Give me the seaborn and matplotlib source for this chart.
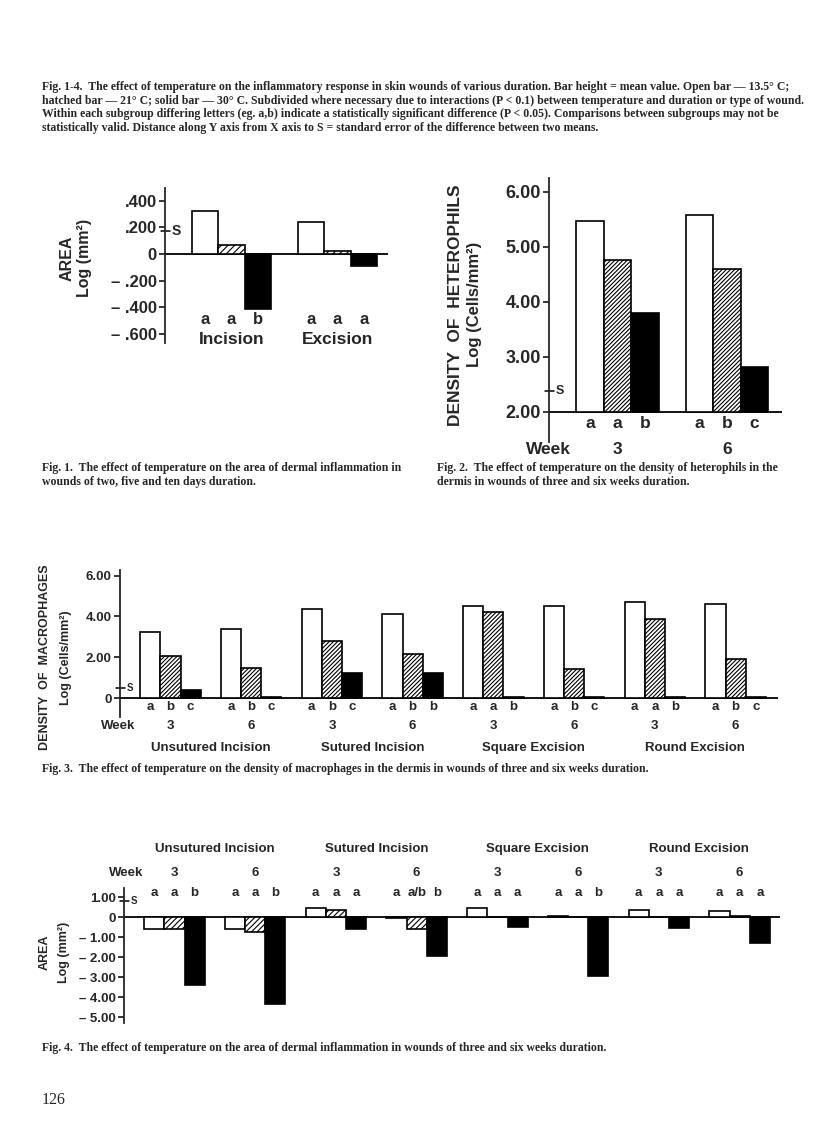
import numpy as np
import pandas as pd
import matplotlib
matplotlib.use('Agg')
import matplotlib.pyplot as plt
import matplotlib.transforms as mtransforms
import seaborn as sns

W, H = 816, 1141

# ── Data ─────────────────────────────────────────────────────────────────────
TEMPS = ['13.5', '21', '30']          # open, hatched, solid bar

# Fig. 1 - area, days
fig1_groups = ['Incision', 'Excision']
fig1_open = [0.32, 0.24]
fig1_hatched = [0.07, 0.02]
fig1_solid = [-0.41, -0.09]
fig1_letters = [['a', 'a', 'b'], ['a', 'a', 'a']]
fig1_se = 0.17
fig1_ticks = [0.4, 0.2, 0.0, -0.2, -0.4, -0.6]
fig1_ticklabels = ['.400', '.200', '0', '– .200', '– .400', '– .600']

# Fig. 2 - heterophils
fig2_weeks = ['3', '6']
fig2_open = [5.47, 5.58]
fig2_hatched = [4.75, 4.60]
fig2_solid = [3.80, 2.82]
fig2_letters = [['a', 'a', 'b'], ['a', 'b', 'c']]
fig2_se = 2.38
fig2_base = 2.0
fig2_ticks = [6.0, 5.0, 4.0, 3.0, 2.0]
fig2_ticklabels = ['6.00', '5.00', '4.00', '3.00', '2.00']

# Fig. 3 / 4 - four wound types, weeks 3 and 6
wound_types = ['Unsutured Incision', 'Sutured Incision', 'Square Excision', 'Round Excision']
weeks = ['3', '6', '3', '6', '3', '6', '3', '6']

fig3_open = [3.23, 3.38, 4.36, 4.12, 4.52, 4.51, 4.69, 4.59]
fig3_hatched = [2.06, 1.47, 2.80, 2.16, 4.23, 1.42, 3.86, 1.90]
fig3_solid = [0.40, 0.06, 1.23, 1.22, 0.05, 0.05, 0.06, 0.07]
fig3_letters = [['a', 'b', 'c'], ['a', 'b', 'c'], ['a', 'b', 'c'], ['a', 'b', 'b'],
                ['a', 'a', 'b'], ['a', 'b', 'c'], ['a', 'a', 'b'], ['a', 'b', 'c']]
fig3_se = 0.5
fig3_ticks = [6.0, 4.0, 2.0, 0.0]
fig3_ticklabels = ['6.00', '4.00', '2.00', '0']

fig4_open = [-0.58, -0.60, 0.45, -0.05, 0.43, 0.05, 0.37, 0.32]
fig4_hatched = [-0.58, -0.77, 0.33, -0.58, 0.02, 0.02, 0.02, 0.05]
fig4_solid = [-3.40, -4.35, -0.58, -1.93, -0.50, -2.95, -0.53, -1.28]
fig4_letters = [['a', 'a', 'b'], ['a', 'a', 'b'], ['a', 'a', 'a'], ['a', 'a/b', 'b'],
                ['a', 'a', 'a'], ['a', 'a', 'b'], ['a', 'a', 'a'], ['a', 'a', 'a']]
fig4_se = 0.8
fig4_ticks = [1.0, 0.0, -1.0, -2.0, -3.0, -4.0, -5.0]
fig4_ticklabels = ['1.00', '0', '– 1.00', '– 2.00', '– 3.00', '– 4.00', '– 5.00']

CAP_TOP = [
    'Fig. 1-4.  The effect of temperature on the inflammatory response in skin wounds of various duration. Bar height = mean value. Open bar — 13.5° C;',
    'hatched bar — 21° C; solid bar — 30° C. Subdivided where necessary due to interactions (P < 0.1) between temperature and duration or type of wound.',
    'Within each subgroup differing letters (eg. a,b) indicate a statistically significant difference (P < 0.05). Comparisons between subgroups may not be',
    'statistically valid. Distance along Y axis from X axis to S = standard error of the difference between two means.',
]
CAP1 = ['Fig. 1.  The effect of temperature on the area of dermal inflammation in',
        'wounds of two, five and ten days duration.']
CAP2 = ['Fig. 2.  The effect of temperature on the density of heterophils in the',
        'dermis in wounds of three and six weeks duration.']
CAP3 = 'Fig. 3.  The effect of temperature on the density of macrophages in the dermis in wounds of three and six weeks duration.'
CAP4 = 'Fig. 4.  The effect of temperature on the area of dermal inflammation in wounds of three and six weeks duration.'

# ── Style ────────────────────────────────────────────────────────────────────
sns.set_style('white')
plt.rcParams['font.family'] = ['Liberation Sans', 'DejaVu Sans']
plt.rcParams['font.weight'] = 'bold'
plt.rcParams['hatch.linewidth'] = 0.8
plt.rcParams['hatch.color'] = 'black'

fig = plt.figure(figsize=(W / 100, H / 100), dpi=100)
fig.patch.set_facecolor('white')


def ftext(x, y, s, **kw):
    kw.setdefault('ha', 'center')
    kw.setdefault('va', 'center')
    return fig.text(x / W, 1 - y / H, s, **kw)


def make_frame(opens, hatched, solid):
    rows = []
    for g in range(len(opens)):
        for k, vals in enumerate([opens, hatched, solid]):
            rows.append({'pos': 4 * g + k + 1, 'temp': TEMPS[k], 'value': vals[g]})
    return pd.DataFrame(rows)


def panel(rect, xlim, ylim, df, base, ticks, ticklabels, fs, se, se_fs, lw=1.2,
          hatch='////////'):
    l, t, r, b = rect
    ax = fig.add_axes([l / W, 1 - b / H, (r - l) / W, (b - t) / H])
    ax.patch.set_alpha(0)
    sns.barplot(data=df.assign(height=df['value'] - base), x='pos', y='height',
                native_scale=True, width=1.0, errorbar=None, color='white',
                saturation=1, edgecolor='black', linewidth=lw, bottom=base, ax=ax)
    for patch, temp in zip(ax.patches, df['temp']):
        if temp == '21':
            patch.set_hatch(hatch)
        elif temp == '30':
            patch.set_facecolor('black')
    ax.set(xlabel='', ylabel='', xlim=xlim, ylim=ylim)
    ax.set_yticks(ticks, ticklabels)
    sns.despine(ax=ax, bottom=True)
    ax.spines['left'].set_linewidth(1.3)
    ax.tick_params(axis='x', bottom=False, labelbottom=False)
    ax.tick_params(axis='y', left=True, direction='out', length=4, width=1.3,
                   labelsize=fs, pad=2)
    for lab in ax.get_yticklabels():
        lab.set_fontweight('bold')
    ax.axhline(base, color='black', lw=1.3, zorder=0.5)
    # standard error mark
    wpx = r - l
    ax.plot([-4 / wpx, 5 / wpx], [se, se], color='black', lw=1.1,
            transform=ax.get_yaxis_transform(), clip_on=False)
    ax.text(7 / wpx, se, 'S', transform=ax.get_yaxis_transform(), fontsize=se_fs,
            ha='left', va='center', fontweight='bold')
    return ax


def letters(ax, groups_letters, y, fs):
    trans = mtransforms.blended_transform_factory(ax.transData, fig.transFigure)
    for g, lets in enumerate(groups_letters):
        for k, s in enumerate(lets):
            ax.text(4 * g + k + 1, 1 - y / H, s, transform=trans, ha='center',
                    va='center', fontsize=fs, fontweight='bold')
    return trans


# ── Fig. 1 ───────────────────────────────────────────────────────────────────
ax1 = panel((165, 188, 388, 343), (-0.5, 7.9), (-0.669, 0.496),
            make_frame(fig1_open, fig1_hatched, fig1_solid), 0.0,
            fig1_ticks, fig1_ticklabels, 12, fig1_se, 10, hatch='/////')
tr = letters(ax1, fig1_letters, 319, 12)
for g, name in enumerate(fig1_groups):
    ax1.text(4 * g + 2, 1 - 339 / H, name, transform=tr, ha='center', va='center',
             fontsize=12.5, fontweight='bold')
ftext(67, 258, 'AREA', rotation=90, fontsize=11.5, fontweight='bold')
ftext(85, 258, 'Log (mm²)', rotation=90, fontsize=11.5, fontweight='bold')

# ── Fig. 2 ───────────────────────────────────────────────────────────────────
ax2 = panel((549, 178, 782, 442), (-0.5, 8.0), (1.45, 6.25),
            make_frame(fig2_open, fig2_hatched, fig2_solid), fig2_base,
            fig2_ticks, fig2_ticklabels, 13, fig2_se, 9)
tr = letters(ax2, fig2_letters, 423, 12.5)
for g, wk in enumerate(fig2_weeks):
    ax2.text(4 * g + 2, 1 - 450 / H, wk, transform=tr, ha='center', va='center',
             fontsize=12.5, fontweight='bold')
ftext(548, 450, 'Week', fontsize=12.5, fontweight='bold')
ftext(455, 305, 'DENSITY  OF  HETEROPHILS', rotation=90, fontsize=12.5, fontweight='bold')
ftext(474, 304, 'Log (Cells/mm²)', rotation=90, fontsize=12, fontweight='bold')

# ── Fig. 3 ───────────────────────────────────────────────────────────────────
ax3 = panel((120, 570, 778, 717), (-0.5, 32.1), (-0.93, 6.27),
            make_frame(fig3_open, fig3_hatched, fig3_solid), 0.0,
            fig3_ticks, fig3_ticklabels, 9.5, fig3_se, 7)
tr = letters(ax3, fig3_letters, 707, 9.5)
for g, wk in enumerate(weeks):
    ax3.text(4 * g + 2, 1 - 726 / H, wk, transform=tr, ha='center', va='center',
             fontsize=9.5, fontweight='bold')
for i, name in enumerate(wound_types):
    ax3.text(8 * i + 4, 1 - 748 / H, name, transform=tr, ha='center', va='center',
             fontsize=9.5, fontweight='bold')
ftext(118, 726, 'Week', fontsize=9.5, fontweight='bold')
ftext(45, 657, 'DENSITY  OF  MACROPHAGES', rotation=90, fontsize=9, fontweight='bold')
ftext(66, 658, 'Log (Cells/mm²)', rotation=90, fontsize=9, fontweight='bold')

# ── Fig. 4 ───────────────────────────────────────────────────────────────────
ax4 = panel((124, 888, 780, 1023), (-0.5, 32.0), (-5.3, 1.45),
            make_frame(fig4_open, fig4_hatched, fig4_solid), 0.0,
            fig4_ticks, fig4_ticklabels, 9.5, fig4_se, 7, hatch='//////')
tr = letters(ax4, fig4_letters, 893, 9.5)
for g, wk in enumerate(weeks):
    ax4.text(4 * g + 2, 1 - 873 / H, wk, transform=tr, ha='center', va='center',
             fontsize=9.5, fontweight='bold')
for i, name in enumerate(wound_types):
    ax4.text(8 * i + 4, 1 - 849 / H, name, transform=tr, ha='center', va='center',
             fontsize=9.5, fontweight='bold')
ftext(126, 873, 'Week', fontsize=9.5, fontweight='bold')
ftext(45, 952, 'AREA', rotation=90, fontsize=9, fontweight='bold')
ftext(64, 952, 'Log (mm²)', rotation=90, fontsize=9, fontweight='bold')

# ── Captions ─────────────────────────────────────────────────────────────────
cap = dict(ha='left', va='center', fontsize=8.5, fontweight='bold',
           family=['Liberation Serif', 'DejaVu Serif'])
for i, line in enumerate(CAP_TOP):
    ftext(42, 87 + 13.7 * i, line, **cap)
for i, line in enumerate(CAP1):
    ftext(42, 468 + 14 * i, line, **cap)
for i, line in enumerate(CAP2):
    ftext(437, 468 + 14 * i, line, **cap)
ftext(42, 769, CAP3, **cap)
ftext(42, 1048, CAP4, **cap)
ftext(42, 1100, '126', ha='left', va='center', fontsize=11.5, fontweight='normal',
      family=['Liberation Serif', 'DejaVu Serif'])

fig.savefig('out.png', dpi=100)
